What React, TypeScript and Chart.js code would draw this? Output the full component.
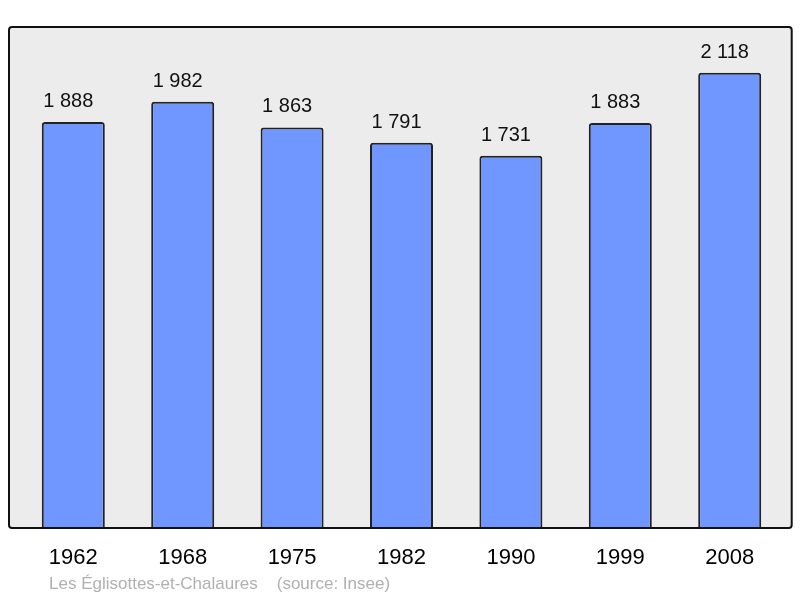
import React, { useEffect, useRef } from "react";
import { Chart, registerables } from "chart.js";

Chart.register(...registerables);

const years = ["1962", "1968", "1975", "1982", "1990", "1999", "2008"];
const population = [1888, 1982, 1863, 1791, 1731, 1883, 2118];
const valueLabels = ["1 888", "1 982", "1 863", "1 791", "1 731", "1 883", "2 118"];
const footerText = "Les Églisottes-et-Chalaures    (source: Insee)";

const FONT = '"Liberation Sans", Arial, sans-serif';

export default function App() {
  const ref = useRef<HTMLCanvasElement | null>(null);

  useEffect(() => {
    document.body.style.margin = "0";
    const canvas = ref.current;
    if (!canvas) return;

    const decor = {
      id: "decor",
      beforeDatasetsDraw(chart: any) {
        const { ctx, chartArea } = chart;
        const l = chartArea.left - 9.6;
        const r = chartArea.right + 7.3;
        const t = chartArea.top;
        const b = chartArea.bottom + 1;
        ctx.save();
        ctx.beginPath();
        ctx.roundRect(l, t, r - l, b - t, 3);
        ctx.fillStyle = "#ececec";
        ctx.fill();
        ctx.restore();
      },
      afterDatasetsDraw(chart: any) {
        const { ctx, chartArea } = chart;
        const l = chartArea.left - 9.6;
        const r = chartArea.right + 7.3;
        const t = chartArea.top;
        const b = chartArea.bottom + 1;
        ctx.save();
        ctx.beginPath();
        ctx.roundRect(l, t, r - l, b - t, 3);
        ctx.lineWidth = 2;
        ctx.strokeStyle = "#111";
        ctx.stroke();

        const meta = chart.getDatasetMeta(0);
        ctx.fillStyle = "#111";
        ctx.textAlign = "center";
        ctx.textBaseline = "alphabetic";
        ctx.font = `20px ${FONT}`;
        meta.data.forEach((bar: any, i: number) => {
          ctx.fillText(valueLabels[i], bar.x - 5, bar.y - 15);
        });

        const xs = chart.scales.x;
        ctx.font = `22px ${FONT}`;
        ctx.fillStyle = "#000";
        years.forEach((y, i) => {
          ctx.fillText(y, xs.getPixelForValue(i), chartArea.bottom + 37);
        });

        ctx.font = `17px ${FONT}`;
        ctx.fillStyle = "#b0b0b0";
        ctx.textAlign = "left";
        ctx.fillText(footerText, 49, chartArea.bottom + 62);
        ctx.restore();
      },
    };

    const chart = new Chart(canvas, {
      type: "bar",
      data: {
        labels: years,
        datasets: [
          {
            data: population,
            backgroundColor: "#7096ff",
            borderColor: "#222",
            borderWidth: 2,
            borderRadius: 3,
            borderSkipped: "bottom",
            categoryPercentage: 1,
            barPercentage: 0.576,
          },
        ],
      },
      options: {
        responsive: false,
        animation: false,
        layout: { padding: { left: 18.6, right: 15.6, top: 27, bottom: 71 } },
        plugins: { legend: { display: false }, tooltip: { enabled: false } },
        scales: {
          x: { display: false },
          y: { display: false, min: 0, max: 2331 },
        },
      },
      plugins: [decor],
    });

    return () => chart.destroy();
  }, []);

  return <canvas ref={ref} width={800} height={598} style={{ display: "block" }} />;
}
